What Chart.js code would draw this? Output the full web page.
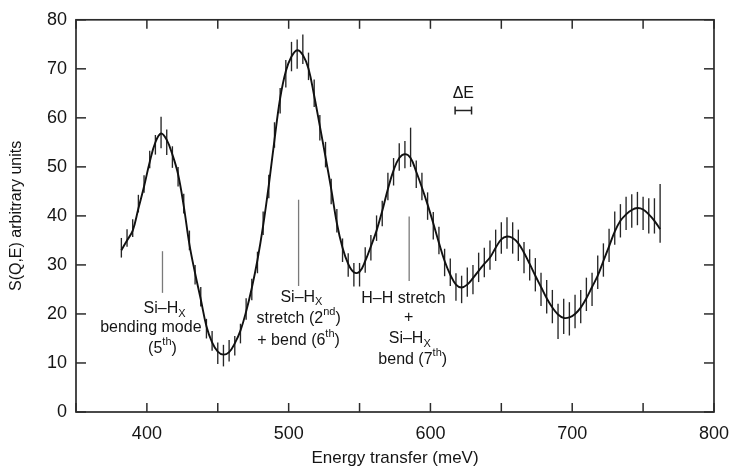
<!DOCTYPE html>
<html><head><meta charset="utf-8">
<script src="https://cdn.jsdelivr.net/npm/chart.js@4.4.0/dist/chart.umd.min.js"></script>
<style>html,body{margin:0;padding:0;background:#fff}#wrap{width:740px;height:468px;position:relative}</style>
</head><body><div id="wrap"><canvas id="c"></canvas></div>
<script>
// ---- data ----
const energies = [382,386,390,394,398,402,406,410,414,418,422,426,430,434,438,442,446,450,454,458,462,466,470,474,478,482,486,490,494,498,502,506,510,514,518,522,526,530,534,538,542,546,550,554,558,562,566,570,574,578,582,586,590,594,598,602,606,610,614,618,622,626,630,634,638,642,646,650,654,658,662,666,670,674,678,682,686,690,694,698,702,706,710,714,718,722,726,730,734,738,742,746,750,754,758,762];
const measured = [33.5,35.5,37.5,42.5,46.5,51.5,54.5,57.0,55.0,52.0,
  48.0,42.5,35.0,28.0,23.5,17.0,14.5,12.0,11.5,12.5,
  13.5,16.0,21.0,25.0,30.5,38.5,46.0,56.5,63.5,69.0,
  72.5,73.0,74.0,70.5,65.0,58.0,52.5,45.0,39.0,33.0,
  30.0,28.0,28.0,31.0,33.5,37.5,40.5,46.0,49.0,52.0,
  52.5,54.0,48.5,46.0,42.0,38.0,35.0,30.5,28.5,25.5,
  25.0,26.5,27.0,29.5,30.5,32.0,34.0,35.5,36.5,35.5,
  34.0,31.5,30.0,28.0,25.0,23.5,21.5,18.5,19.5,19.0,
  20.5,21.5,24.0,25.0,28.5,31.0,34.0,37.5,39.0,40.5,
  41.0,41.5,40.5,40.0,40.0,40.5];
const errors = [2.0,1.8,1.8,1.8,1.8,1.8,2.0,3.2,2.6,2.2,
  2.0,2.0,2.0,2.0,2.0,2.0,2.0,2.2,2.2,2.2,
  2.0,2.0,2.2,2.2,2.2,2.4,2.4,2.6,2.6,2.8,
  3.0,3.0,3.0,2.8,2.8,2.6,2.6,2.6,2.4,2.4,
  2.4,2.4,2.4,2.6,2.6,2.6,2.6,2.8,2.8,2.8,
  2.8,4.0,2.8,2.8,2.8,2.8,2.8,2.8,2.8,2.8,
  2.8,3.0,3.0,3.0,3.0,3.0,3.2,3.2,3.2,3.2,
  3.2,3.2,3.2,3.4,3.4,3.4,3.4,3.6,3.6,3.4,
  3.4,3.4,3.4,3.4,3.4,3.4,3.4,3.4,3.4,3.4,
  3.4,3.4,3.4,3.6,3.6,6.0];
const fitCurve = [33.0,35.0,37.0,41.5,46.0,51.0,55.0,56.8,55.5,52.5,
  48.5,42.0,34.2,28.3,23.0,17.5,14.2,12.3,11.7,12.2,
  14.0,16.6,20.5,25.3,31.0,38.0,46.3,55.5,64.0,69.5,
  72.5,73.8,72.8,70.0,64.5,58.3,52.0,45.5,38.5,33.5,
  30.2,28.5,28.6,30.8,33.8,37.0,41.0,45.5,49.3,51.8,
  52.6,51.8,49.0,45.8,42.3,38.5,34.5,30.8,28.0,26.0,
  25.4,26.0,27.3,28.8,30.2,31.5,33.5,35.2,35.8,35.5,
  34.4,32.5,30.2,27.8,25.5,23.2,21.3,19.9,19.2,19.3,
  20.0,21.3,23.2,25.5,27.8,30.8,33.8,36.8,39.0,40.3,
  41.2,41.6,41.3,40.3,39.0,37.3];
const xTickLabels = ['400','500','600','700','800'];
const yTickLabels = ['0','10','20','30','40','50','60','70','80'];
// mode markers: [energy, from S, to S]
const modeMarkers = [[411,24.3,32.8],[507,25.7,43.3],[585,26.7,39.9]];
// annotation text lines: [energy, S, segments]
const modeLabels = [
  [412.5,21.1,[['Si–H',0],['X',1]]],
  [402.8,17.3,[['bending mode',0]]],
  [411,13.0,[['(5',0],['th',2],[')',0]]],
  [509,23.4,[['Si–H',0],['X',1]]],
  [507,19.1,[['stretch (2',0],['nd',2],[')',0]]],
  [507,14.6,[['+ bend (6',0],['th',2],[')',0]]],
  [581,23.1,[['H–H stretch',0]]],
  [584.7,19.3,[['+',0]]],
  [585.4,15.0,[['Si–H',0],['X',1]]],
  [587.5,10.6,[['bend (7',0],['th',2],[')',0]]]
];
const resolution = {from:617.4, to:629, level:61.5, textLevel:64.9, text:'ΔE'};

const FONT = '"Liberation Sans", Arial, Helvetica, sans-serif';
Chart.defaults.font.family = FONT;
Chart.defaults.color = '#151515';

function drawRich(ctx, segs, cx, cy, size){
  const f = k => (k===0 ? size : Math.round(size*0.66)) + 'px ' + FONT;
  let w = 0;
  segs.forEach(s => { ctx.font = f(s[1]); w += ctx.measureText(s[0]).width; });
  let xx = cx - w/2;
  ctx.textAlign = 'left'; ctx.textBaseline = 'middle';
  segs.forEach(s => {
    ctx.font = f(s[1]);
    const dy = s[1]===1 ? size*0.32 : (s[1]===2 ? -size*0.42 : 0);
    ctx.fillText(s[0], xx, cy + dy);
    xx += ctx.measureText(s[0]).width;
  });
}

const decor = {
  id: 'decor',
  beforeDatasetsDraw(chart){
    const {ctx, scales:{x,y}} = chart;
    ctx.save();
    ctx.strokeStyle = '#262626'; ctx.lineWidth = 1.35;
    energies.forEach((e,i) => {
      const px = x.getPixelForValue(e);
      ctx.beginPath();
      ctx.moveTo(px, y.getPixelForValue(measured[i]-errors[i]));
      ctx.lineTo(px, y.getPixelForValue(measured[i]+errors[i]));
      ctx.stroke();
    });
    ctx.restore();
  },
  afterDatasetsDraw(chart){
    const {ctx, chartArea:a, scales:{x,y}} = chart;
    ctx.save();
    const line = (x1,y1,x2,y2) => { ctx.beginPath(); ctx.moveTo(x1,y1); ctx.lineTo(x2,y2); ctx.stroke(); };
    // frame
    ctx.strokeStyle = '#2b2b2b'; ctx.lineWidth = 1.7;
    ctx.strokeRect(a.left, a.top, a.right-a.left, a.bottom-a.top);
    // inward ticks on all four sides
    ctx.lineWidth = 1.5;
    x.ticks.forEach(t => { const px = x.getPixelForValue(t.value);
      line(px, a.bottom, px, a.bottom-9); line(px, a.top, px, a.top+9); });
    y.ticks.forEach(t => { const py = y.getPixelForValue(t.value);
      line(a.left, py, a.left+10, py); line(a.right, py, a.right-10, py); });
    // mode markers
    ctx.strokeStyle = '#7a7a7a'; ctx.lineWidth = 1.3;
    modeMarkers.forEach(m => { const px = x.getPixelForValue(m[0]);
      line(px, y.getPixelForValue(m[1]), px, y.getPixelForValue(m[2])); });
    // labels
    ctx.fillStyle = '#151515';
    modeLabels.forEach(l => drawRich(ctx, l[2], x.getPixelForValue(l[0]), y.getPixelForValue(l[1]), 16));
    // resolution bar
    ctx.strokeStyle = '#222'; ctx.lineWidth = 1.5;
    const r1 = x.getPixelForValue(resolution.from), r2 = x.getPixelForValue(resolution.to), ry = y.getPixelForValue(resolution.level);
    line(r1, ry, r2, ry); line(r1, ry-4, r1, ry+4); line(r2, ry-4, r2, ry+4);
    ctx.font = '16px ' + FONT; ctx.textAlign = 'center'; ctx.textBaseline = 'middle';
    ctx.fillText(resolution.text, (r1+r2)/2, y.getPixelForValue(resolution.textLevel));
    ctx.restore();
  }
};

new Chart(document.getElementById('c'), {
  type: 'line',
  data: {
    datasets: [
      { label: 'fit', data: energies.map((e,i)=>({x:e, y:fitCurve[i]})),
        borderColor: '#111', borderWidth: 1.9, pointRadius: 0, tension: 0.4, fill: false },
      { label: 'measured', data: energies.map((e,i)=>({x:e, y:measured[i]})),
        showLine: false, pointRadius: 0, borderColor: '#222' }
    ]
  },
  options: {
    responsive: true, maintainAspectRatio: false, animation: false,
    layout: { padding: { top: 19, right: 16, left: 0, bottom: 0 } },
    plugins: { legend: { display: false }, tooltip: { enabled: false } },
    scales: {
      x: {
        type: 'linear', min: 350, max: 800,
        border: { display: false },
        grid: { display: false, drawTicks: false },
        ticks: { stepSize: 50, autoSkip: false, maxRotation: 0, padding: 11,
          font: { size: 18 }, color: '#151515',
          callback: v => xTickLabels.includes(String(v)) ? String(v) : '' },
        title: { display: true, text: 'Energy transfer (meV)', font: { size: 17, lineHeight: 1.1 },
          color: '#151515', padding: { top: 0, bottom: 0 } },
        afterFit: s => { s.height = 56; }
      },
      y: {
        min: 0, max: 80,
        border: { display: false },
        grid: { display: false, drawTicks: false },
        ticks: { stepSize: 10, padding: 9, font: { size: 18 }, color: '#151515',
          callback: v => yTickLabels.includes(String(v)) ? String(v) : '' },
        title: { display: true, text: 'S(Q,E) arbitrary units', font: { size: 16, lineHeight: 1.2 },
          color: '#151515', padding: { top: 7, bottom: 0 } },
        afterFit: s => { s.width = 76; }
      }
    }
  },
  plugins: [decor]
});
</script></body></html>
